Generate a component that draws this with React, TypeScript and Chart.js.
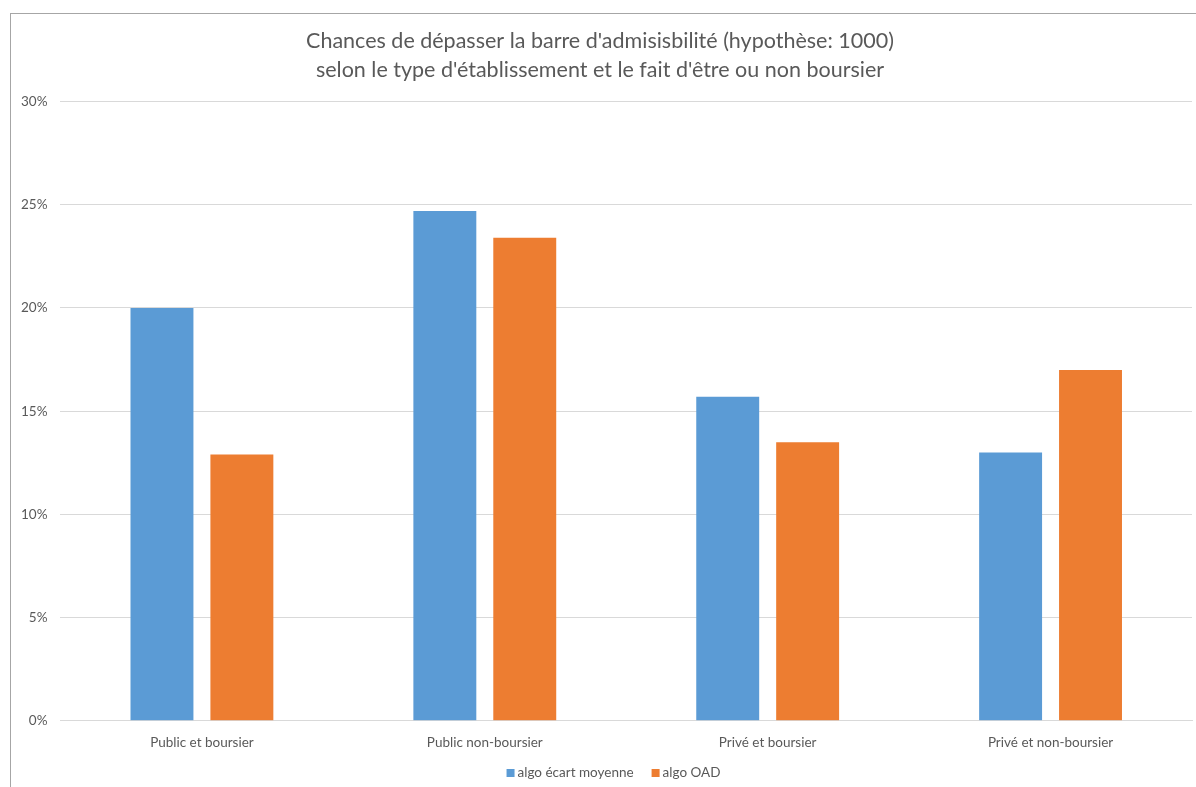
import React, { useEffect, useRef } from "react";
import { Chart, registerables } from "chart.js";

Chart.register(...registerables);

const categories = ["Public et boursier", "Public non-boursier", "Privé et boursier", "Privé et non-boursier"];
const seriesEcart = [20.0, 24.7, 15.7, 13.0];
const seriesOAD = [12.9, 23.4, 13.5, 17.0];
const seriesNames = ["algo écart moyenne", "algo OAD"];
const titleLines = [
  "Chances de dépasser la barre d'admisisbilité (hypothèse: 1000)",
  "selon le type d'établissement et le fait d'être ou non boursier",
];

const FONT = "Lato, 'Open Sans', sans-serif";

const bottomLegend = {
  id: "bottomLegend",
  afterDraw(chart: any) {
    const ctx = chart.ctx as CanvasRenderingContext2D;
    const box = 8;
    const gapText = 3;
    const gapItem = 18;
    ctx.save();
    ctx.font = `13.5px ${FONT}`;
    ctx.textBaseline = "middle";
    ctx.textAlign = "left";
    const items = chart.data.datasets.map((d: any) => ({
      label: d.label as string,
      color: d.backgroundColor as string,
      w: ctx.measureText(d.label).width,
    }));
    let total = 0;
    items.forEach((it: any, i: number) => {
      total += box + gapText + it.w + (i < items.length - 1 ? gapItem : 0);
    });
    const cx = 613.5;
    const cy = 773;
    let x = cx - total / 2;
    items.forEach((it: any) => {
      ctx.fillStyle = it.color;
      ctx.fillRect(x, cy - box / 2, box, box);
      x += box + gapText;
      ctx.fillStyle = "#595959";
      ctx.fillText(it.label, x, cy);
      x += it.w + gapItem;
    });
    ctx.restore();
  },
};

export default function App() {
  const ref = useRef<HTMLCanvasElement | null>(null);
  useEffect(() => {
    if (!ref.current) return;
    const chart = new Chart(ref.current, {
      type: "bar",
      data: {
        labels: categories,
        datasets: [
          {
            label: seriesNames[0],
            data: seriesEcart,
            backgroundColor: "#5b9bd5",
            categoryPercentage: 0.565,
            barPercentage: 0.7875,
          },
          {
            label: seriesNames[1],
            data: seriesOAD,
            backgroundColor: "#ed7d31",
            categoryPercentage: 0.565,
            barPercentage: 0.7875,
          },
        ],
      },
      options: {
        animation: false,
        responsive: false,
        maintainAspectRatio: false,
        layout: { padding: { left: 8, right: 4, top: 0, bottom: 22 } },
        plugins: {
          title: {
            display: true,
            text: titleLines,
            color: "#595959",
            font: { family: FONT, size: 21.5, weight: "normal", lineHeight: 1.35 },
            padding: { top: 26.5, bottom: 17 },
          },
          legend: { display: false },
          tooltip: { enabled: false },
        },
        scales: {
          x: {
            grid: { display: false, drawTicks: false },
            border: { color: "#d9d9d9", width: 1 },
            ticks: { color: "#595959", font: { family: FONT, size: 13.5 }, padding: 14 },
          },
          y: {
            min: 0,
            max: 30,
            grid: { color: "#d9d9d9", drawTicks: false },
            border: { display: false },
            ticks: {
              stepSize: 5,
              color: "#595959",
              font: { family: FONT, size: 13.5 },
              padding: 13,
              callback: (v: any) => v + "%",
            },
          },
        },
      },
      plugins: [bottomLegend],
    });
    return () => chart.destroy();
  }, []);
  return (
    <div style={{ position: "fixed", left: 0, top: 0, width: 1196, height: 787, background: "#fff" }}>
      <div
        style={{
          position: "absolute",
          left: 10,
          top: 13,
          right: 0,
          bottom: 0,
          borderLeft: "1px solid #a6a6a6",
          borderTop: "1px solid #a6a6a6",
        }}
      />
      <canvas ref={ref} width={1196} height={787} style={{ position: "absolute", left: 0, top: 0 }} />
    </div>
  );
}
